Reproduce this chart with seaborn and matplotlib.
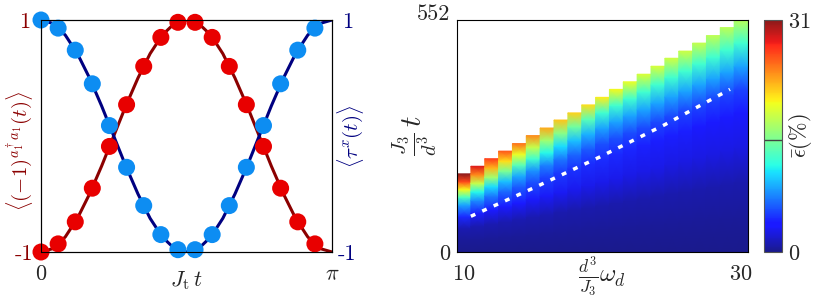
import numpy as np
import matplotlib
matplotlib.use('Agg')
import matplotlib.pyplot as plt
from matplotlib.colors import ListedColormap
import seaborn as sns

# left panel: marker samples and smooth curves
t_pts = [0.000, 0.185, 0.370, 0.554, 0.739, 0.924, 1.109, 1.294, 1.478,
         1.663, 1.848, 2.033, 2.217, 2.402, 2.587, 2.772, 2.957]
parity_pts = [-1.0, -0.93, -0.74, -0.45, -0.09, 0.27, 0.60, 0.85, 0.98,
              0.98, 0.85, 0.60, 0.27, -0.09, -0.45, -0.74, -0.93]
tau_pts = [1.0, 0.93, 0.74, 0.45, 0.09, -0.27, -0.60, -0.85, -0.98,
           -0.98, -0.85, -0.60, -0.27, 0.09, 0.45, 0.74, 0.93]

t_line = [0.000, 0.131, 0.262, 0.393, 0.524, 0.654, 0.785, 0.916, 1.047,
          1.178, 1.309, 1.440, 1.571, 1.702, 1.833, 1.963, 2.094, 2.225,
          2.356, 2.487, 2.618, 2.749, 2.880, 3.011, 3.142]
parity_line = [-1.0, -0.97, -0.87, -0.71, -0.5, -0.26, 0.0, 0.26, 0.5, 0.71,
               0.87, 0.97, 1.0, 0.97, 0.87, 0.71, 0.5, 0.26, 0.0, -0.26,
               -0.5, -0.71, -0.87, -0.97, -1.0]
tau_line = [1.0, 0.97, 0.87, 0.71, 0.5, 0.26, 0.0, -0.26, -0.5, -0.71,
            -0.87, -0.97, -1.0, -0.97, -0.87, -0.71, -0.5, -0.26, 0.0, 0.26,
            0.5, 0.71, 0.87, 0.97, 1.0]

# right panel: error map, one column per drive frequency
omega = [10, 11, 12, 13, 14, 15, 16, 17, 18, 19, 20,
         21, 22, 23, 24, 25, 26, 27, 28, 29, 30]
t_top = [186, 204, 222, 240, 258, 277, 295, 314, 331, 350, 368,
         387, 405, 423, 442, 461, 478, 497, 515, 534, 552]
# error read at these fractions of each column's height
fracs = [0, 0.15, 0.3, 0.45, 0.6, 0.7, 0.8, 0.9, 1.0]
err = [
    [0.1, 0.4, 1.2, 4.4, 8.5, 13.0, 20.0, 26.5, 31.0],
    [0.1, 0.4, 1.2, 4.1, 7.8, 11.5, 18.0, 24.0, 28.5],
    [0.1, 0.4, 1.2, 3.9, 7.2, 10.5, 16.5, 22.5, 27.0],
    [0.1, 0.4, 1.1, 3.7, 6.6, 9.5, 15.0, 21.0, 26.0],
    [0.1, 0.4, 1.1, 3.5, 6.1, 8.8, 13.5, 19.5, 25.0],
    [0.1, 0.4, 1.1, 3.3, 5.7, 8.0, 12.5, 18.0, 24.0],
    [0.1, 0.4, 1.1, 3.2, 5.3, 7.4, 11.5, 16.5, 23.0],
    [0.1, 0.4, 1.0, 3.1, 5.0, 7.0, 10.5, 15.5, 22.0],
    [0.1, 0.4, 1.0, 3.0, 4.8, 6.5, 9.5, 14.5, 21.5],
    [0.1, 0.4, 1.0, 2.9, 4.6, 6.1, 9.0, 13.5, 21.0],
    [0.1, 0.4, 1.0, 2.8, 4.5, 5.8, 8.5, 12.5, 20.5],
    [0.1, 0.4, 1.0, 2.8, 4.4, 5.7, 8.5, 12.5, 20.0],
    [0.1, 0.4, 1.0, 2.7, 4.3, 5.6, 8.5, 12.5, 19.5],
    [0.1, 0.4, 1.0, 2.7, 4.2, 5.6, 8.5, 12.5, 19.0],
    [0.1, 0.4, 1.0, 2.7, 4.1, 5.5, 8.5, 12.5, 18.8],
    [0.1, 0.4, 1.0, 2.6, 4.0, 5.5, 8.5, 12.5, 18.5],
    [0.1, 0.4, 1.0, 2.6, 4.0, 5.4, 8.5, 12.5, 18.3],
    [0.1, 0.4, 1.0, 2.6, 3.9, 5.4, 8.5, 12.5, 18.0],
    [0.1, 0.4, 1.0, 2.6, 3.9, 5.3, 8.5, 12.5, 17.8],
    [0.1, 0.4, 1.0, 2.6, 3.8, 5.3, 8.5, 12.5, 17.6],
    [0.1, 0.4, 1.0, 2.6, 3.8, 5.3, 8.5, 12.5, 17.5],
]
# white dashed guide line
guide_w = [10.5, 15.0, 19.8, 24.5, 29.2]
guide_t = [85, 152, 226, 303, 387]

sns.set_style('white')
plt.rcParams.update({
    'font.family': 'cmr10',
    'mathtext.fontset': 'cm',
    'axes.unicode_minus': False,
    'axes.formatter.use_mathtext': True,
})

RED, DRED = '#e80000', '#8b0000'
BLUE, NAVY = '#0d8df2', '#000080'
FS = 16

W, H = 831, 297
fig = plt.figure(figsize=(W / 100, H / 100), dpi=100)
ax1 = fig.add_axes([41 / W, 45 / H, 291 / W, 232 / H])
ax2 = fig.add_axes([457 / W, 45 / H, 291 / W, 232 / H])
cax = fig.add_axes([764 / W, 45 / H, 18 / W, 232 / H])

# ---- left panel
sns.lineplot(x=t_line, y=parity_line, color=DRED, lw=2.2, ax=ax1, zorder=2)
sns.lineplot(x=t_line, y=tau_line, color=NAVY, lw=2.2, ax=ax1, zorder=2)
sns.scatterplot(x=t_pts, y=parity_pts, color=RED, s=150, edgecolor='none',
                ax=ax1, zorder=3, clip_on=False)
sns.scatterplot(x=t_pts, y=tau_pts, color=BLUE, s=150, edgecolor='none',
                ax=ax1, zorder=4, clip_on=False)
ax1.set_xlim(0, np.pi)
ax1.set_ylim(-1, 1)
ax1.set_xticks([0, np.pi])
ax1.set_xticklabels(['0', r'$\pi$'])
ax1.set_yticks([-1, 1])
ax1.set_yticklabels(['-1', '1'])
ax1.tick_params(axis='x', length=0, labelsize=FS, pad=9)
ax1.tick_params(axis='y', length=0, labelsize=FS, pad=12, labelcolor=DRED)
for lbl in ax1.get_yticklabels():
    lbl.set_ha('center')
ax1.text(0.5, -0.075, r'$J_\mathrm{t}\,t$', transform=ax1.transAxes,
         ha='center', va='top', fontsize=FS)
ax1.text(-0.072, 0.435, r'$\langle(-1)^{a_1^\dagger a_1}(t)\rangle$',
         transform=ax1.transAxes, ha='center', va='center', rotation=90,
         fontsize=15, color=DRED)

tw = ax1.twinx()
tw.set_ylim(-1, 1)
tw.set_yticks([-1, 1])
tw.set_yticklabels(['-1', '1'])
tw.tick_params(axis='y', length=0, labelsize=FS, pad=11, labelcolor=NAVY)
for lbl in tw.get_yticklabels():
    lbl.set_ha('center')
tw.text(1.065, 0.5, r'$\langle\tau^x(t)\rangle$', transform=ax1.transAxes,
        ha='center', va='center', rotation=90, fontsize=15, color=NAVY)

for a in (ax1, tw, ax2):
    for sp in a.spines.values():
        sp.set_color('black')
        sp.set_linewidth(0.8)

# ---- right panel
jet = plt.get_cmap('jet')(np.linspace(0, 1, 256))
jet[:, :3] = jet[:, :3] * 0.9 + 0.1
cmap = ListedColormap(jet)

fr = np.array(fracs)
for w, tt, col in zip(omega, t_top, err):
    ys = fr * tt
    X = np.column_stack([np.full_like(ys, w - 0.5), np.full_like(ys, w + 0.5)])
    Y = np.column_stack([ys, ys])
    C = np.column_stack([col, col])
    mesh = ax2.pcolormesh(X, Y, C, shading='gouraud', cmap=cmap, vmin=0, vmax=31)

ax2.plot(guide_w, guide_t, color='white', lw=2.5, dashes=(1.4, 2.2))
ax2.set_xlim(omega[0] - 0.5, omega[-1] + 0.5)
ax2.set_ylim(0, t_top[-1])
ax2.set_xticks([10, 30])
ax2.set_yticks([0, 552])
ax2.set_yticklabels(['0', '552'])
ax2.tick_params(axis='x', length=0, labelsize=FS, pad=9)
ax2.tick_params(axis='y', length=0, labelsize=FS, pad=5)
ylabs = ax2.get_yticklabels()
ylabs[1].set_va('baseline')
ax2.text(0.5, -0.105, r'$\frac{d^3}{J_3}\omega_d$', transform=ax2.transAxes,
         ha='center', va='center', fontsize=18)
ax2.text(-0.145, 0.5, r'$\frac{J_3}{d^3}\,t$', transform=ax2.transAxes,
         ha='center', va='center', rotation=90, fontsize=21)

cb = fig.colorbar(mesh, cax=cax, ticks=[0, 31])
cb.ax.tick_params(length=0, labelsize=FS, pad=4)
cb.outline.set_edgecolor('#555555')
cb.outline.set_linewidth(0.8)
cax.axhline(15, color='#444444', lw=1)
cax.text(2.0, 0.5, r'$\bar{\epsilon}(\%)$', transform=cax.transAxes,
         ha='center', va='center', rotation=90, fontsize=FS)

fig.savefig('out.png', dpi=100)
